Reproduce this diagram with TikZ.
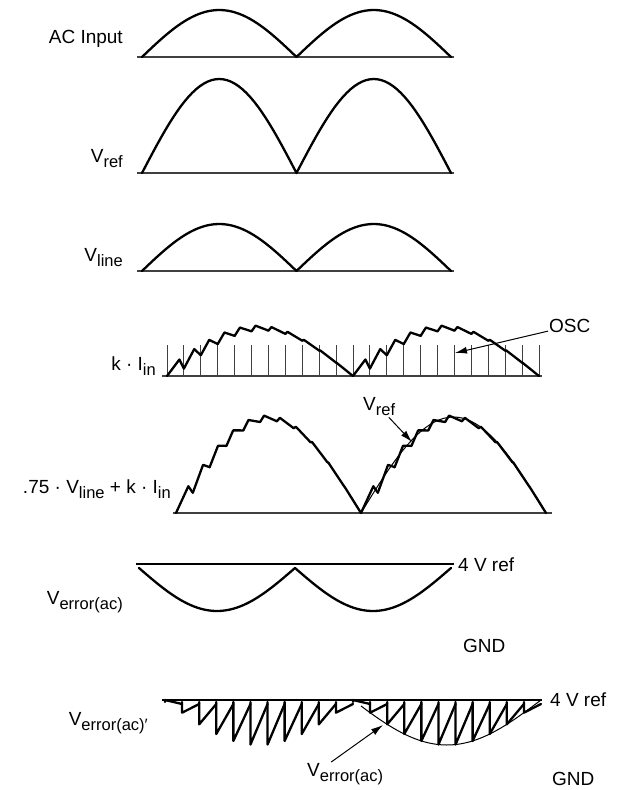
\documentclass[tikz,border=0pt]{standalone}
\usepackage{fontspec}
\setmainfont{Liberation Sans}
\usetikzlibrary{positioning}
\usetikzlibrary{arrows.meta}

\newcommand\sbs[1]{\raisebox{-0.5ex}{\fontsize{16.5}{16.5}\selectfont #1}}

% two sine arches: x start, baseline, half width, height
\newcommand\archs[4]{%
  \draw[wave] plot[domain=0:2*#3, samples=81] ({#1+\x},{#2-#4*abs(sin(\x/#3*180))});}

% current with ripple: x start, baseline, half width, height, ripple
\newcommand\ripple[5]{%
  \foreach \k in {0,...,21}{
    \pgfmathsetmacro\per{#3/11}
    \pgfmathsetmacro\clk{#1+\k*\per}
    \pgfmathsetmacro\ua{mod(\k,11)/11}
    \pgfmathsetmacro\um{(mod(\k,11)+0.5)/11}
    \pgfmathsetmacro\ub{mod(\k+1,11)/11}
    \pgfmathsetmacro\pk{\clk+(0.05+0.75*(1-\um)^2)*\per}
    \pgfmathsetmacro\ya{max(#4*abs(sin((\clk-#1)/#3*180))-#5*(1-\ua)^1.5/2,0)}
    \pgfmathsetmacro\yp{#4*abs(sin((\pk-#1)/#3*180))+#5*(1-\um)^1.5/2}
    \pgfmathsetmacro\yb{max(#4*abs(sin((\clk+\per-#1)/#3*180))-#5*(1-\ub)^1.5/2,0)}
    \draw[wave] (\clk,#2-\ya) -- (\pk,#2-\yp) -- (\clk+\per,#2-\yb);
  }}

\begin{document}
\begin{tikzpicture}
  [
    x=1pt, y=-1pt,
    font=\fontsize{19}{21}\selectfont,
    wave/.style={line width=2.3pt, line join=round, line cap=round},
    thin wave/.style={line width=1pt},
    axis/.style={line width=1.5pt, draw=black!75},
    refline/.style={line width=1.3pt},
    tick/.style={line width=1pt, draw=black!75},
    lbl/.style={inner sep=1pt},
    pointer/.style={line width=1pt, -{Latex[length=12pt,width=7pt]}}
  ]
  \useasboundingbox (0,0) rectangle (623,790);

  % AC input
  \draw[axis] (137,57) -- (454,57);
  \archs{142}{57}{154.5}{47}
  \node (acin) [lbl, anchor=east] at (124,39) {AC Input};

  % V ref
  \draw[axis] (137,173) -- (454,173);
  \archs{142}{173}{154.5}{94}
  \node (vref) [lbl, anchor=east] at (124,159) {V\sbs{ref}};

  % V line
  \draw[axis] (137,271) -- (454,271);
  \archs{142}{271}{154.5}{47}
  \node (vline) [lbl, anchor=east] at (124,258) {V\sbs{line}};

  % k Iin with oscillator
  \draw[axis] (162,376) -- (542,376);
  \foreach \k in {0,...,22}
    \draw[tick] ({167+\k*186/11},345) -- ({167+\k*186/11},376);
  \ripple{167}{376}{186}{48}{14}
  \node (kiin) [lbl, anchor=east] at (157,366) {k · I\sbs{in}};
  \node (osc) [lbl, anchor=west] at (548,326) {OSC};
  \coordinate (oscpt) at (455,353);
  \draw[pointer] (osc) -- (oscpt);

  % .75 Vline + k Iin
  \draw[axis] (173,513) -- (552,513);
  \draw[thin wave] plot[domain=185:370, samples=41] ({176+\x},{513-96*abs(sin(\x/185*180))});
  \ripple{176}{513}{185}{95}{15}
  \node (sum) [lbl, anchor=east] at (172,489) {.75 · V\sbs{line} + k · I\sbs{in}};
  \node (vrefb) [lbl, anchor=west] at (362,407) {V\sbs{ref}};
  \coordinate (vrefpt) at (412,442);
  \draw[pointer] (vrefb) -- (vrefpt);

  % V error(ac)
  \draw[refline] (136,564) -- (454,564);
  \draw[wave] plot[domain=0:312, samples=81] ({139+\x},{568+43*abs(sin(\x/156*180))});
  \node (verr) [lbl, anchor=east] at (124,602) {V\sbs{error(ac)}};
  \node (ref1) [lbl, anchor=west] at (457,565) {4 V ref};
  \node (gnd1) [lbl, anchor=west] at (462,646) {GND};

  % V error(ac)'
  \draw[refline] (162,700) -- (542,700);
  \draw[thin wave] plot[domain=8:188, samples=41] ({353+\x},{700+45*sin(\x/188*180)});
  \foreach \k in {0,...,21}{
    \pgfmathsetmacro\clk{165+\k*188/11}
    \pgfmathsetmacro\bot{45*abs(sin((\clk-165)/188*180))}
    \draw[wave] (\clk,702) -- (\clk,700+\bot) -- (\clk+188/11,704);
  }
  \node (verrp) [lbl, anchor=east] at (149,723) {V\sbs{error(ac)′}};
  \node (ref2) [lbl, anchor=west] at (549,700) {4 V ref};
  \node (gnd2) [lbl, anchor=west] at (551,779) {GND};
  \node (verrb) [lbl, anchor=west] at (306,774) {V\sbs{error(ac)}};
  \coordinate (verrpt) at (383,725);
  \draw[pointer] ([xshift=-14pt]verrb.north) -- (verrpt);
\end{tikzpicture}
\end{document}
